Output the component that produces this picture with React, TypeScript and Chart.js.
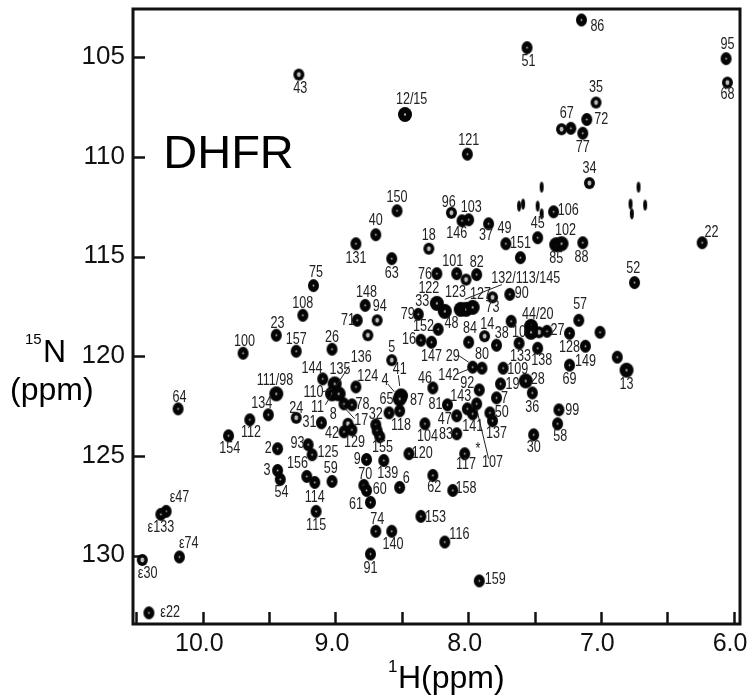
import React, { useEffect, useRef } from "react";
import { Chart, registerables } from "chart.js";

Chart.register(...registerables);

const chartName = "DHFR";
const namePosition = [9.81, 109.89];
const xTickLabels = ["10.0", "9.0", "8.0", "7.0", "6.0"];

const ringPeaks = [
  [9.28,105.85],[8.30,114.58],[9.30,123.06],[7.88,118.97],[8.76,118.92],[8.02,116.13],[7.30,108.59],[10.46,130.19],
  [7.82,117.02],[8.58,120.17],[6.05,106.25],[8.13,112.78],[8.69,118.17],[7.09,111.29],[7.47,118.77],[7.04,107.25],[8.91,123.36],
];
const tinyPeaks = [
  [7.45,111.49],[7.59,112.34],[7.62,112.44],[7.48,112.44],[7.45,112.83],[6.72,111.49],[6.78,112.34],[6.77,112.83],[6.67,112.39],
];
const bigPeaks = [
  [8.48,107.85],[9.45,121.86],[6.81,120.67],[8.24,117.32],[8.18,117.72],[8.06,117.62],[8.02,117.62],[7.97,117.52],
  [8.51,121.96],[8.52,122.11],[9.01,121.36],[9.03,121.86],[8.98,121.86],[7.53,118.47],[7.53,118.77],[7.34,114.38],[7.30,114.33],[7.57,121.21],
];
const mediumPeaks = [
  [8.54,112.68],[8.70,113.88],[8.85,114.33],[8.58,115.08],[9.17,116.43],[8.78,117.42],[9.25,117.92],[8.24,115.83],
  [8.00,113.13],[8.05,113.18],[7.85,113.33],[7.72,114.33],[7.61,115.03],[7.48,114.03],[7.36,112.73],[7.14,114.28],
  [8.01,109.84],[7.56,104.50],[7.15,103.11],[7.11,108.10],[7.14,108.79],[7.23,108.54],[6.06,105.05],[6.24,114.28],
  [6.75,116.28],[8.09,115.83],[7.94,115.88],[7.69,116.87],[7.17,118.17],[7.68,118.22],[7.41,118.72],[7.24,118.82],
  [7.01,118.77],[7.12,119.47],[7.48,119.57],[7.62,119.32],[7.24,120.42],[6.88,120.02],[7.74,120.57],[7.76,121.36],
  [7.52,121.81],[7.32,122.66],[7.33,123.36],[7.51,123.91],[7.79,122.06],[7.84,122.81],[7.82,123.21],[8.03,124.86],
  [8.45,124.86],[8.33,123.36],[8.09,123.86],[8.09,122.96],[8.16,122.41],[8.01,122.61],[7.97,122.86],[7.92,121.66],
  [7.94,122.36],[7.90,120.57],[7.97,120.52],[8.00,119.27],[7.79,119.42],[8.36,119.17],[8.28,119.27],[8.23,118.62],
  [8.38,117.87],[8.84,118.17],[9.03,119.62],[8.27,121.56],[8.60,122.81],[8.52,122.71],[8.85,121.51],[8.94,122.36],
  [8.88,122.41],[9.10,121.11],[8.70,123.41],[8.69,123.71],[8.67,124.01],[8.94,123.76],[8.88,123.66],[9.11,123.31],
  [8.64,125.20],[8.77,125.15],[9.70,119.82],[9.45,118.92],[9.30,119.72],[10.19,122.61],[9.51,122.91],[9.65,123.16],
  [9.81,123.96],[9.44,124.61],[9.21,124.41],[9.18,124.91],[9.44,125.70],[9.42,126.15],[9.22,126.00],[9.16,126.30],
  [9.03,126.25],[9.15,127.75],[8.79,126.45],[8.77,126.70],[8.74,127.30],[8.52,126.55],[8.27,125.95],[8.12,126.70],
  [8.36,128.00],[8.70,128.75],[8.58,128.75],[8.18,129.29],[8.74,129.89],[7.92,131.24],[10.28,127.75],[10.32,127.90],
  [10.18,130.04],[10.41,132.84],
];

const peakLabels: [string, number, number][] = [
  ["43",9.27,106.55],["12/15",8.43,107.10],["150",8.54,111.99],["40",8.70,113.18],["131",8.85,115.08],["18",8.30,113.93],
  ["63",8.58,115.83],["75",9.15,115.78],["148",8.77,116.78],["94",8.67,117.47],["108",9.25,117.32],["76",8.33,115.88],
  ["122",8.30,116.58],["33",8.35,117.22],["96",8.15,112.24],["103",7.98,112.49],["146",8.09,113.83],["37",7.87,113.93],
  ["49",7.73,113.58],["151",7.61,114.33],["45",7.48,113.33],["106",7.25,112.68],["102",7.27,113.68],["85",7.34,115.08],
  ["88",7.15,115.03],["34",7.09,110.54],["121",8.00,109.14],["51",7.55,105.20],["86",7.03,103.41],["35",7.04,106.50],
  ["72",7.00,108.10],["77",7.14,109.49],["67",7.26,107.80],["95",6.05,104.31],["68",6.05,106.85],["22",6.17,113.78],
  ["52",6.76,115.58],["101",8.12,115.23],["82",7.94,115.28],["132/113/145",7.57,116.08],["123",8.10,116.78],["127",7.91,116.87],
  ["73",7.82,117.52],["90",7.60,116.82],["57",7.16,117.37],["44/20",7.48,117.87],["27",7.33,118.67],["128",7.24,119.52],
  ["149",7.12,120.22],["138",7.45,120.17],["133",7.61,119.97],["10",7.62,118.77],["38",7.75,118.82],["69",7.24,121.11],
  ["13",6.81,121.36],["109",7.63,120.62],["19",7.67,121.36],["28",7.48,121.11],["36",7.52,122.51],["99",7.22,122.66],
  ["58",7.31,124.01],["30",7.51,124.56],["7",7.73,122.06],["50",7.75,122.76],["137",7.79,123.86],["107",7.82,125.30],
  ["*",7.93,124.66],["117",8.02,125.40],["120",8.35,124.86],["104",8.31,124.01],["83",8.17,123.91],["47",8.18,123.16],
  ["81",8.25,122.36],["143",8.06,121.96],["141",7.97,123.51],["92",8.01,121.31],["80",7.90,119.87],["29",8.12,119.97],
  ["142",8.15,120.92],["84",7.99,118.57],["14",7.86,118.37],["152",8.34,118.47],["16",8.45,119.12],["147",8.28,119.97],
  ["48",8.13,118.32],["79",8.46,117.87],["71",8.91,118.17],["26",9.03,119.02],["5",8.58,119.52],["41",8.52,120.62],
  ["4",8.63,121.16],["46",8.33,121.06],["65",8.62,122.11],["87",8.39,122.16],["118",8.51,123.46],["124",8.76,120.97],
  ["136",8.81,120.02],["135",8.97,120.62],["8",9.02,122.86],["78",8.80,122.36],["17",8.81,123.21],["32",8.70,122.86],
  ["42",9.03,123.86],["129",8.86,124.31],["31",9.20,123.31],["155",8.65,124.56],["9",8.84,125.15],["125",9.06,124.81],
  ["144",9.18,120.57],["100",9.69,119.22],["23",9.44,118.32],["157",9.30,119.12],["64",10.18,122.01],["111/98",9.46,121.16],
  ["134",9.56,122.31],["110",9.17,121.76],["11",9.14,122.51],["24",9.30,122.56],["112",9.64,123.81],["154",9.80,124.61],
  ["2",9.51,124.61],["93",9.29,124.36],["3",9.52,125.70],["54",9.41,126.80],["156",9.29,125.35],["114",9.16,127.05],
  ["59",9.04,125.60],["115",9.15,128.45],["70",8.78,125.90],["60",8.67,126.65],["61",8.85,127.40],["139",8.61,125.85],
  ["6",8.47,126.10],["62",8.26,126.55],["158",8.02,126.60],["153",8.25,128.05],["74",8.69,128.15],["140",8.57,129.39],
  ["116",8.07,128.90],["91",8.74,130.59],["159",7.80,131.14],["ε47",10.18,127.05],["ε133",10.32,128.55],["ε74",10.11,129.34],
  ["ε30",10.42,130.84],["ε22",10.25,132.79],
];

const leaderLines = [
  [[7.75,116.38],[8.03,117.12]],[[7.85,125.11],[7.94,122.61]],[[8.08,119.92],[8.00,120.27]],[[8.09,120.87],[8.00,120.62]],
  [[8.53,120.92],[8.52,121.46]],[[8.61,121.36],[8.56,121.76]],[[8.90,120.47],[9.00,121.46]],[[8.86,123.11],[8.97,122.31]],
  [[9.08,122.41],[9.03,121.86]],[[9.10,121.76],[9.03,121.61]],
];

function sprite(rx: number, ry: number, hole: number): HTMLCanvasElement {
  const c = document.createElement("canvas");
  c.width = Math.ceil(rx * 2 + 2);
  c.height = Math.ceil(ry * 2 + 2);
  const g = c.getContext("2d")!;
  g.fillStyle = "#050505";
  g.beginPath();
  g.ellipse(c.width / 2, c.height / 2, rx, ry, 0, 0, Math.PI * 2);
  g.fill();
  if (hole > 0) {
    g.fillStyle = "#bdbdbd";
    g.beginPath();
    g.ellipse(c.width / 2, c.height / 2, hole, hole * 1.2, 0, 0, Math.PI * 2);
    g.fill();
  }
  return c;
}

const toPoints = (rows: number[][]) => rows.map(([x, y]) => ({ x, y }));
const INK = "#111111";
const flatten = (s: any) => {
  s.paddingTop = 0;
  s.paddingBottom = 0;
  s.paddingLeft = 0;
  s.paddingRight = 0;
};

const textPlugin = {
  id: "peakText",
  afterDatasetsDraw(chart: any) {
    const { ctx, scales, chartArea: a } = chart;
    ctx.save();
    ctx.strokeStyle = INK;
    ctx.lineWidth = 3;
    ctx.strokeRect(a.left, a.top, a.right - a.left, a.bottom - a.top);
    ctx.textAlign = "center";
    ctx.textBaseline = "middle";
    ctx.fillStyle = "#222222";
    ctx.font = '17px "Liberation Sans"';
    for (const [text, h, n] of peakLabels) {
      ctx.save();
      ctx.translate(scales.x.getPixelForValue(h), scales.y.getPixelForValue(n));
      ctx.scale(0.74, 1);
      ctx.fillText(text, 0, 0);
      ctx.restore();
    }
    ctx.fillStyle = "#000";
    ctx.font = '47px "Liberation Sans"';
    ctx.fillText(chartName, scales.x.getPixelForValue(namePosition[0]), scales.y.getPixelForValue(namePosition[1]));

    ctx.textBaseline = "alphabetic";
    ctx.textAlign = "left";
    ctx.font = '32px "Liberation Sans"';
    ctx.fillText("H(ppm)", 398, 688);
    ctx.fillText("N", 43, 362);
    ctx.fillText("(ppm)", 10, 400);
    ctx.font = '17px "Liberation Sans"';
    ctx.fillText("1", 388, 672);
    ctx.font = '15px "Liberation Sans"';
    ctx.fillText("15", 25, 344);
    ctx.restore();
  },
};

export default function App() {
  const ref = useRef<HTMLCanvasElement>(null);
  useEffect(() => {
    const chart = new Chart(ref.current!, {
      type: "scatter",
      data: {
        datasets: [
          ...leaderLines.map((line) => ({
            data: toPoints(line),
            showLine: true,
            borderColor: "#222",
            borderWidth: 1,
            pointRadius: 0,
          })),
          { data: toPoints(mediumPeaks), pointStyle: sprite(5.5, 6.5, 0.9), pointRadius: 7 },
          { data: toPoints(bigPeaks), pointStyle: sprite(7, 7.5, 1), pointRadius: 8 },
          { data: toPoints(ringPeaks), pointStyle: sprite(5.5, 6, 2), pointRadius: 6 },
          { data: toPoints(tinyPeaks), pointStyle: sprite(2, 5.5, 0), pointRadius: 6 },
        ] as any,
      },
      options: {
        responsive: false,
        animation: false,
        layout: { padding: { top: 6, right: 8, left: 0, bottom: 0 } },
        plugins: { legend: { display: false }, tooltip: { enabled: false } },
        scales: {
          x: {
            type: "linear",
            reverse: true,
            min: 5.955,
            max: 10.53,
            afterFit: (s: any) => { s.height = 72; flatten(s); },
            grid: { drawOnChartArea: false, tickLength: -12, tickWidth: 2.5, tickColor: INK },
            border: { display: false },
            ticks: {
              stepSize: 0.5,
              includeBounds: false,
              autoSkip: false,
              maxRotation: 0,
              padding: 17,
              labelOffset: -4,
              color: "#111",
              font: { family: "Liberation Sans", size: 25 },
              callback: (v: any) => {
                const t = Number(v).toFixed(1);
                return xTickLabels.includes(t) ? t : "";
              },
            },
          },
          y: {
            type: "linear",
            reverse: true,
            min: 102.56,
            max: 133.4,
            afterFit: (s: any) => { s.width = 133; flatten(s); },
            grid: { drawOnChartArea: false, tickLength: -12, tickWidth: 2.5, tickColor: INK },
            border: { display: false },
            ticks: {
              stepSize: 5,
              includeBounds: false,
              padding: 20,
              labelOffset: -1,
              color: "#111",
              font: { family: "Liberation Sans", size: 26 },
            },
          },
        },
      } as any,
      plugins: [textPlugin],
    });
    return () => chart.destroy();
  }, []);
  return (
    <canvas
      ref={ref}
      width={749}
      height={696}
      style={{ position: "fixed", left: 0, top: 0, width: 749, height: 696, background: "#fff" }}
    />
  );
}
